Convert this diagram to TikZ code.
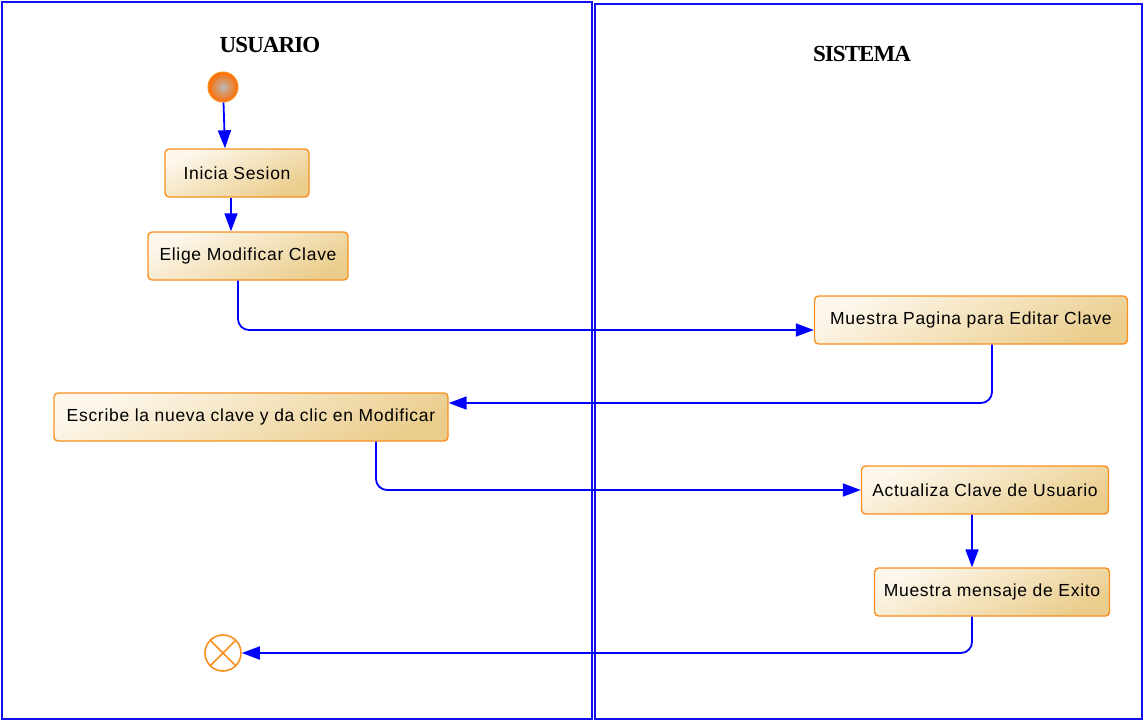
\documentclass[tikz,border=0pt]{standalone}
\usepackage{fontspec}
\usepackage{xcolor}
\usepackage{tikz}
\usetikzlibrary{arrows.meta, positioning, calc}

\newfontfamily\boxfont[LetterSpace=4]{Liberation Sans}
\newfontfamily\titlefont[LetterSpace=-4]{Liberation Serif}

\definecolor{lane}{HTML}{1010F0}
\definecolor{flowblue}{HTML}{0000FF}
\definecolor{boxedge}{HTML}{F7901E}
\definecolor{boxlight}{HTML}{FDF7EC}
\definecolor{boxdark}{HTML}{EACD8C}

\begin{document}
\begin{tikzpicture}[
  x=1pt, y=-1pt,
  act/.style={draw=boxedge, line width=1.4pt, rounded corners=4pt,
              top color=boxlight, bottom color=boxdark, shading angle=25,
              minimum height=48pt, inner sep=2pt,
              font=\boxfont\fontsize{17.5}{20}\selectfont},
  flow/.style={-{Triangle[length=18pt,width=13pt]}, draw=flowblue,
               line width=1.8pt, rounded corners=11pt},
  title/.style={font=\titlefont\bfseries\fontsize{23}{25}\selectfont}
]
  \useasboundingbox (0,0) rectangle (1144,721);

  % Swimlanes
  \draw[lane, line width=1.5pt] (2,2) rectangle (592,719);
  \draw[lane, line width=1.5pt] (595,4) rectangle (1142,719);
  \node[title] (usuario) at (270,45) {USUARIO};
  \node[title] (sistema) at (862,54) {SISTEMA};

  % Start / end
  \node (inicio) [circle, draw=boxedge, line width=1pt, minimum size=30pt,
                  inner sep=0pt, inner color=gray!55, outer color=orange!85!red]
                 at (223,87) {};
  \node (fin) [circle, draw=boxedge, line width=1.6pt, minimum size=36pt,
               inner sep=0pt] at (223,653) {};
  \draw[boxedge, line width=1.6pt] (fin.45) -- (fin.225);
  \draw[boxedge, line width=1.6pt] (fin.135) -- (fin.315);

  % Usuario
  \node (inicia)   [act, minimum width=144pt] at (237,173) {Inicia Sesion};
  \node (elige)    [act, minimum width=200pt] at (248,256) {Elige Modificar Clave};
  \node (escribe)  [act, minimum width=394pt] at (251,417)
                   {Escribe la nueva clave y da clic en Modificar};

  % Sistema
  \node (pagina)   [act, minimum width=313pt] at (971,320)
                   {Muestra Pagina para Editar Clave};
  \node (actualiza)[act, minimum width=247pt] at (985,490)
                   {Actualiza Clave de Usuario};
  \node (mensaje)  [act, minimum width=235pt] at (992,592)
                   {Muestra mensaje de Exito};

  % Flows
  \draw[flow] (inicio) -- ([xshift=-12pt]inicia.north);
  \draw[flow] ([xshift=-6pt]inicia.south) -- ([xshift=-6pt]inicia.south |- elige.north);
  \draw[flow] ([xshift=-10pt]elige.south) |- ([yshift=-10pt]pagina.west);
  \draw[flow] ([xshift=21pt]pagina.south) |- ([yshift=14pt]escribe.east);
  \draw[flow] ([xshift=125pt]escribe.south) |- (actualiza.west);
  \draw[flow] ([xshift=-13pt]actualiza.south) -- ([xshift=-13pt]actualiza.south |- mensaje.north);
  \draw[flow] ([xshift=-20pt]mensaje.south) |- (fin.east);
\end{tikzpicture}
\end{document}
